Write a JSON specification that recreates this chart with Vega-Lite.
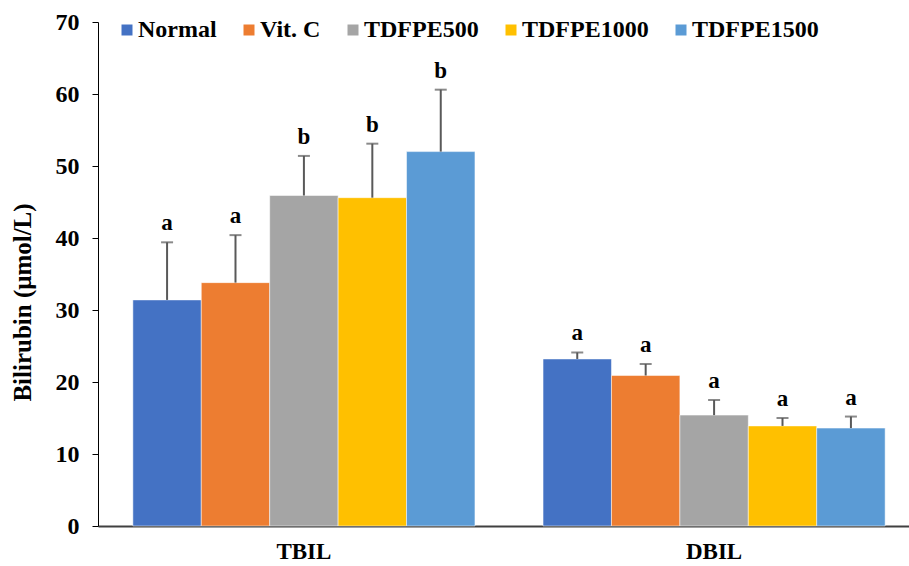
{
  "$schema": "https://vega.github.io/schema/vega-lite/v6.json",
  "width": 811,
  "height": 504,
  "autosize": {"type": "none"},
  "padding": {"left": 98, "top": 22, "right": 0, "bottom": 40},
  "background": "white",
  "config": {
    "view": {"stroke": null},
    "font": "Liberation Serif",
    "axis": {"grid": false, "labelFont": "Liberation Serif", "titleFont": "Liberation Serif", "labelFontWeight": "bold", "titleFontWeight": "bold", "labelColor": "black", "titleColor": "black"},
    "legend": {"labelFont": "Liberation Serif", "labelFontWeight": "bold"}
  },
  "data": {
    "values": [
      {"cat": "TBIL", "group": "Normal", "mean": 31.4, "upper": 39.4, "sig": "a"},
      {"cat": "TBIL", "group": "Vit. C", "mean": 33.8, "upper": 40.4, "sig": "a"},
      {"cat": "TBIL", "group": "TDFPE500", "mean": 45.9, "upper": 51.4, "sig": "b"},
      {"cat": "TBIL", "group": "TDFPE1000", "mean": 45.6, "upper": 53.1, "sig": "b"},
      {"cat": "TBIL", "group": "TDFPE1500", "mean": 52.0, "upper": 60.6, "sig": "b"},
      {"cat": "DBIL", "group": "Normal", "mean": 23.2, "upper": 24.1, "sig": "a"},
      {"cat": "DBIL", "group": "Vit. C", "mean": 20.9, "upper": 22.5, "sig": "a"},
      {"cat": "DBIL", "group": "TDFPE500", "mean": 15.4, "upper": 17.5, "sig": "a"},
      {"cat": "DBIL", "group": "TDFPE1000", "mean": 13.9, "upper": 15.0, "sig": "a"},
      {"cat": "DBIL", "group": "TDFPE1500", "mean": 13.6, "upper": 15.2, "sig": "a"}
    ]
  },
  "encoding": {
    "x": {
      "field": "cat", "type": "nominal", "sort": ["TBIL", "DBIL"],
      "scale": {"range": [0, 822], "paddingInner": 0.166, "paddingOuter": 0.085},
      "axis": {"title": null, "labelAngle": 0, "labelFontSize": 23, "labelPadding": 14, "ticks": false, "domainColor": "#404040", "domainWidth": 2}
    },
    "xOffset": {
      "field": "group", "type": "nominal",
      "sort": ["Normal", "Vit. C", "TDFPE500", "TDFPE1000", "TDFPE1500"],
      "scale": {"paddingInner": 0, "paddingOuter": 0}
    }
  },
  "layer": [
    {
      "mark": {"type": "bar", "stroke": "white", "strokeWidth": 0.5},
      "encoding": {
        "y": {
          "field": "mean", "type": "quantitative",
          "scale": {"domain": [0, 70], "nice": false},
          "axis": {"title": "Bilirubin (μmol/L)", "titleFontSize": 25, "titlePadding": 20, "titleY": 280, "labelFontSize": 24, "values": [0, 10, 20, 30, 40, 50, 60, 70], "tickSize": 6, "labelPadding": 13, "domainColor": "black", "tickColor": "black"}
        },
        "color": {
          "field": "group", "type": "nominal",
          "sort": ["Normal", "Vit. C", "TDFPE500", "TDFPE1000", "TDFPE1500"],
          "scale": {"domain": ["Normal", "Vit. C", "TDFPE500", "TDFPE1000", "TDFPE1500"], "range": ["#4472C4", "#ED7D31", "#A5A5A5", "#FFC000", "#5B9BD5"]},
          "legend": {
            "title": null, "orient": "none", "direction": "horizontal",
            "legendX": 17, "legendY": -4, "padding": 0,
            "symbolType": "square", "symbolSize": 121, "symbolStrokeWidth": 0,
            "labelFont": "Liberation Serif", "labelFontWeight": "bold", "labelFontSize": 24, "labelColor": "black",
            "labelOffset": -1, "columnPadding": 20
          }
        }
      }
    },
    {
      "mark": {"type": "rule", "color": "#595959", "strokeWidth": 2},
      "encoding": {
        "y": {"field": "mean", "type": "quantitative"},
        "y2": {"field": "upper"}
      }
    },
    {
      "mark": {"type": "tick", "color": "#595959", "thickness": 2, "size": 12},
      "encoding": {
        "y": {"field": "upper", "type": "quantitative"}
      }
    },
    {
      "mark": {"type": "text", "font": "Liberation Serif", "fontWeight": "bold", "fontSize": 23, "baseline": "alphabetic", "dy": -12, "color": "black"},
      "encoding": {
        "y": {"field": "upper", "type": "quantitative"},
        "text": {"field": "sig"}
      }
    }
  ]
}
